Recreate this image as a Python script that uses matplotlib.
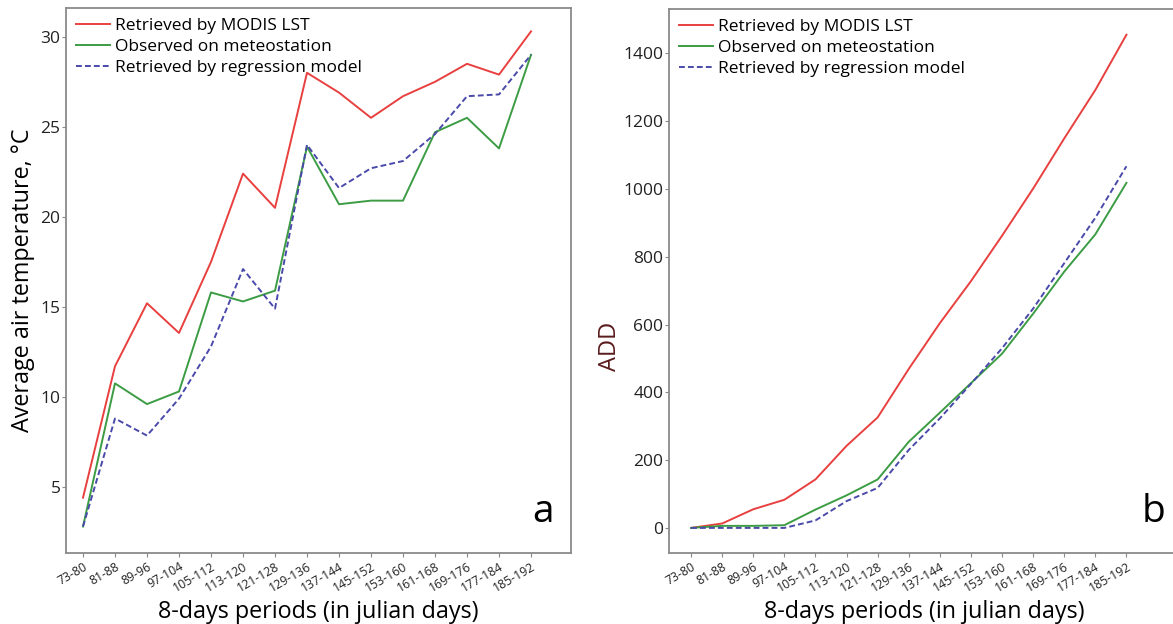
import matplotlib
matplotlib.use('Agg')
import matplotlib.pyplot as plt

plt.rcParams['font.family'] = ['Open Sans', 'DejaVu Sans']

periods = ['73-80', '81-88', '89-96', '97-104', '105-112', '113-120', '121-128',
           '129-136', '137-144', '145-152', '153-160', '161-168', '169-176',
           '177-184', '185-192']

# panel a: average air temperature, deg C
temp_modis = [4.4, 11.7, 15.2, 13.55, 17.5, 22.4, 20.5, 28.0, 26.9, 25.5, 26.7,
              27.5, 28.5, 27.9, 30.3]
temp_obs = [2.8, 10.75, 9.6, 10.3, 15.8, 15.3, 15.9, 23.9, 20.7, 20.9, 20.9,
            24.7, 25.5, 23.8, 29.0]
temp_regr = [2.8, 8.8, 7.85, 9.9, 12.8, 17.1, 14.9, 24.0, 21.6, 22.7, 23.1,
             24.6, 26.7, 26.8, 29.0]

# panel b: ADD
add_modis = [0, 13, 55, 83, 143, 242, 326, 469, 604, 728, 862, 1001, 1149, 1292, 1455]
add_obs = [0, 6, 6, 8, 54, 96, 143, 254, 340, 427, 514, 632, 756, 866, 1018]
add_regr = [0, 0, 0, 0, 22, 79, 118, 230, 323, 425, 530, 647, 781, 915, 1067]

labels = ['Retrieved by MODIS LST', 'Observed on meteostation',
          'Retrieved by regression model']
RED = '#e8403f'
GREEN = '#3c9c44'
BLUE = '#4a4aaa'
SPINE = '#8a8a8a'

fig = plt.figure(figsize=(11.73, 6.24), dpi=100)
ax_a = fig.add_axes([0.0563, 0.1138, 0.4305, 0.8734])
ax_b = fig.add_axes([0.5703, 0.1138, 0.4356, 0.8718])

x = list(range(len(periods)))


def style(ax):
    for s in ax.spines.values():
        s.set_color(SPINE)
        s.set_linewidth(1.3)
    ax.tick_params(axis='both', direction='out', length=3, width=0.8,
                   color=SPINE, labelcolor='#222222')
    ax.tick_params(axis='y', labelsize=12.5, pad=1)
    ax.set_xticks(x)
    ax.set_xticklabels(periods, rotation=30, ha='right', rotation_mode='anchor',
                       fontsize=8.8)
    ax.tick_params(axis='x', pad=2)


for ax, series in ((ax_a, (temp_modis, temp_obs, temp_regr)),
                   (ax_b, (add_modis, add_obs, add_regr))):
    ax.plot(x, series[0], color=RED, lw=1.4, label=labels[0])
    ax.plot(x, series[1], color=GREEN, lw=1.4, label=labels[1])
    ax.plot(x, series[2], color=BLUE, lw=1.4, ls=(0, (3, 1.6)), label=labels[2])
    style(ax)
    ax.legend(loc='upper left', frameon=False, fontsize=12.5, handlelength=2.0,
              handletextpad=0.25, labelspacing=0.3, borderaxespad=0.15,
              bbox_to_anchor=(0.0, 1.0))
    ax.set_xlabel('8-days periods (in julian days)', fontsize=16.8, labelpad=4)

ax_a.set_xlim(-0.53, 15.25)
ax_a.set_ylim(1.33, 31.6)
ax_a.set_yticks([5, 10, 15, 20, 25, 30])
ax_a.set_ylabel('Average air temperature, \u00b0C', fontsize=16.8, labelpad=4)
ax_a.text(0.965, 0.04, 'a', transform=ax_a.transAxes, fontsize=28,
          ha='right', va='bottom')

ax_b.set_xlim(-0.71, 15.72)
ax_b.set_ylim(-74, 1531)
ax_b.set_yticks([0, 200, 400, 600, 800, 1000, 1200, 1400])
ax_b.set_ylabel('ADD', fontsize=17, color='#5a1c1c')
ax_b.yaxis.set_label_coords(-0.092, 0.38)
ax_b.text(0.972, 0.04, 'b', transform=ax_b.transAxes, fontsize=28,
          ha='right', va='bottom')

fig.savefig('out.png', dpi=100)
